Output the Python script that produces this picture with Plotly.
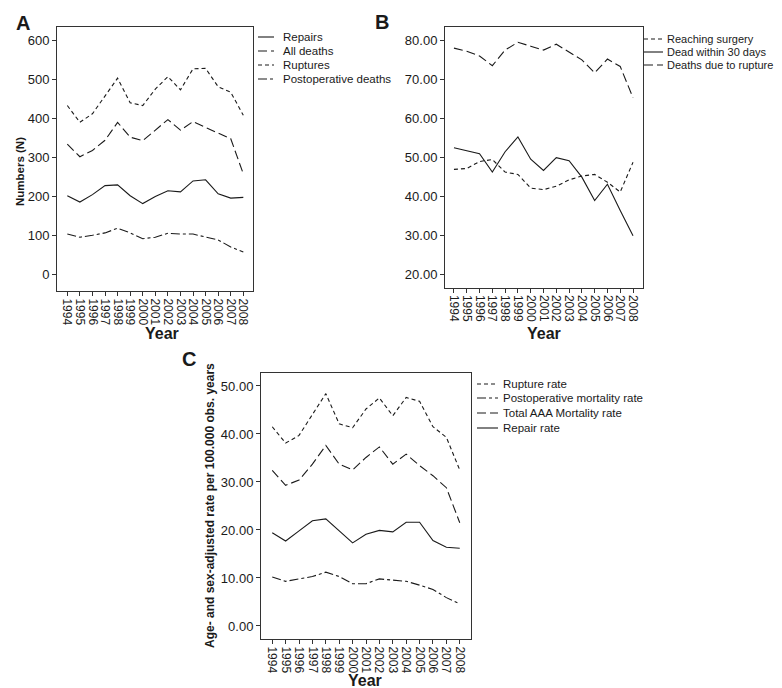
import plotly.graph_objects as go

years = list(range(1994, 2009))
year_labels = [str(y) for y in years]

# Panel A: numbers
a_repairs = [202, 186, 205, 228, 230, 202, 182, 200, 215, 212, 240, 243, 207, 196, 198]
a_all_deaths = [334, 302, 318, 344, 390, 352, 343, 370, 397, 370, 392, 377, 362, 348, 258]
a_ruptures = [433, 390, 412, 458, 503, 440, 433, 475, 507, 473, 527, 528, 481, 467, 408]
a_postop_deaths = [104, 96, 101, 107, 119, 107, 92, 96, 106, 104, 104, 96, 89, 71, 58]
a_yticks = [0, 100, 200, 300, 400, 500, 600]

# Panel B: percentages
b_reaching_surgery = [47.0, 47.2, 49.0, 49.5, 46.3, 45.7, 42.2, 41.8, 42.7, 44.3, 45.3, 45.7, 43.7, 41.2, 48.8]
b_dead_30_days = [52.5, 51.8, 51.0, 46.3, 51.5, 55.3, 49.6, 46.7, 50.0, 49.2, 45.0, 39.0, 43.2, 36.5, 30.0]
b_deaths_rupture = [78.0, 77.2, 76.0, 73.5, 77.5, 79.5, 78.5, 77.5, 79.0, 77.0, 75.0, 71.7, 75.2, 73.3, 65.3]
b_yticks = [20, 30, 40, 50, 60, 70, 80]

# Panel C: rates per 100.000 obs. years
c_rupture_rate = [41.5, 38.1, 39.7, 44.0, 48.4, 42.1, 41.3, 45.2, 47.5, 43.8, 47.6, 46.8, 41.5, 39.3, 32.5]
c_postop_rate = [10.2, 9.3, 9.8, 10.3, 11.2, 10.3, 8.8, 8.8, 9.8, 9.6, 9.3, 8.5, 7.6, 5.9, 4.6]
c_total_rate = [32.4, 29.3, 30.4, 33.7, 37.6, 33.7, 32.5, 35.1, 37.3, 33.7, 35.8, 33.4, 31.3, 28.8, 21.5]
c_repair_rate = [19.4, 17.7, 19.8, 21.9, 22.3, 19.8, 17.3, 19.1, 19.9, 19.6, 21.6, 21.6, 17.8, 16.4, 16.2]
c_yticks = [0, 10, 20, 30, 40, 50]

W, H = 782, 688
INK = "#1a1a1a"
AX = "#333333"
FONT = "Liberation Sans, Arial, sans-serif"

SOLID = "solid"
LONG = "9px,4px"
SHORT = "4px,3px"
DASHDOT = "9px,3px,3px,3px"

def px_x(x):
    return x / W

def px_y(y):
    return 1 - y / H

fig = go.Figure()

def add_series(vals, dash, xa, ya, name):
    fig.add_trace(go.Scatter(x=years, y=vals, mode="lines", name=name,
                             line=dict(color=INK, width=1.1, dash=dash),
                             xaxis=xa, yaxis=ya, showlegend=False,
                             hoverinfo="x+y+name"))

add_series(a_repairs, SOLID, "x", "y", "Repairs")
add_series(a_all_deaths, LONG, "x", "y", "All deaths")
add_series(a_ruptures, SHORT, "x", "y", "Ruptures")
add_series(a_postop_deaths, DASHDOT, "x", "y", "Postoperative deaths")

add_series(b_reaching_surgery, SHORT, "x2", "y2", "Reaching surgery")
add_series(b_dead_30_days, SOLID, "x2", "y2", "Dead within 30 days")
add_series(b_deaths_rupture, LONG, "x2", "y2", "Deaths due to rupture")

add_series(c_rupture_rate, SHORT, "x3", "y3", "Rupture rate")
add_series(c_postop_rate, DASHDOT, "x3", "y3", "Postoperative mortality rate")
add_series(c_total_rate, LONG, "x3", "y3", "Total AAA Mortality rate")
add_series(c_repair_rate, SOLID, "x3", "y3", "Repair rate")

xtickfont = dict(family=FONT, size=12, color=INK)
ytickfont = dict(family=FONT, size=13, color=INK)

def xaxis(domain, rng, anchor):
    return dict(domain=domain, range=rng, anchor=anchor,
                tickmode="array", tickvals=years, ticktext=year_labels,
                tickangle=90, ticks="outside", ticklen=4, tickcolor=AX,
                showline=True, mirror=True, linecolor=AX, linewidth=1,
                showgrid=False, zeroline=False, tickfont=xtickfont)

def yaxis(domain, rng, anchor, vals, fmt):
    return dict(domain=domain, range=rng, anchor=anchor,
                tickmode="array", tickvals=vals,
                ticktext=[format(v, fmt) for v in vals],
                ticks="outside", ticklen=4, tickcolor=AX,
                showline=True, mirror=True, linecolor=AX, linewidth=1,
                showgrid=False, zeroline=False, tickfont=ytickfont)

fig.update_layout(
    width=W, height=H,
    margin=dict(l=0, r=0, t=0, b=0),
    paper_bgcolor="white", plot_bgcolor="white",
    font=dict(family=FONT, color=INK),
    showlegend=False,
    xaxis=xaxis([px_x(49), px_x(245)], [1993.18, 2008.77], "y"),
    yaxis=yaxis([px_y(283), px_y(19)], [-41.7, 634], "x", a_yticks, "d"),
    xaxis2=xaxis([px_x(437), px_x(635)], [1993.3, 2008.78], "y2"),
    yaxis2=yaxis([px_y(279.5), px_y(19)], [16.78, 83.4], "x2", b_yticks, ".2f"),
    xaxis3=xaxis([px_x(253), px_x(463)], [1993.16, 2008.84], "y3"),
    yaxis3=yaxis([px_y(631), px_y(365)], [-2.72, 52.7], "x3", c_yticks, ".2f"),
)

annotations = []
shapes = []

def text(x, y, s, size, bold=False, angle=0, xanchor="center"):
    annotations.append(dict(x=px_x(x), y=px_y(y), xref="paper", yref="paper",
                            text=f"<b>{s}</b>" if bold else s, showarrow=False,
                            textangle=angle, xanchor=xanchor, yanchor="middle",
                            font=dict(family=FONT, size=size, color=INK)))

# Panel letters
text(15, 15, "A", 20, bold=True)
text(374, 14, "B", 20, bold=True)
text(181, 351, "C", 20, bold=True)

# Axis titles
text(12, 164, "Numbers (N)", 11.5, bold=True, angle=-90)
text(154, 325, "Year", 16, bold=True)
text(536, 325, "Year", 16, bold=True)
text(357, 672, "Year", 16, bold=True)
text(202, 498, "Age- and sex-adjusted rate per 100.000 obs. years", 12, bold=True, angle=-90)

def legend(x0, x1, xt, ys, names, dashes, size):
    for y, n, d in zip(ys, names, dashes):
        shapes.append(dict(type="line", xref="paper", yref="paper",
                           x0=px_x(x0), x1=px_x(x1), y0=px_y(y), y1=px_y(y),
                           line=dict(color=INK, width=1.1, dash=d)))
        text(xt, y, n, size, xanchor="left")

legend(250, 266, 273, [29, 43, 57, 71],
       ["Repairs", "All deaths", "Ruptures", "Postoperative deaths"],
       [SOLID, LONG, SHORT, DASHDOT], 11.5)
legend(636, 655, 657, [31, 44, 57],
       ["Reaching surgery", "Dead within 30 days", "Deaths due to rupture"],
       [SHORT, SOLID, LONG], 11)
legend(469, 490, 493, [376, 390, 405, 420],
       ["Rupture rate", "Postoperative mortality rate", "Total AAA Mortality rate", "Repair rate"],
       [SHORT, DASHDOT, LONG, SOLID], 11.5)

fig.update_layout(annotations=annotations, shapes=shapes)

fig.write_html("out.html")
